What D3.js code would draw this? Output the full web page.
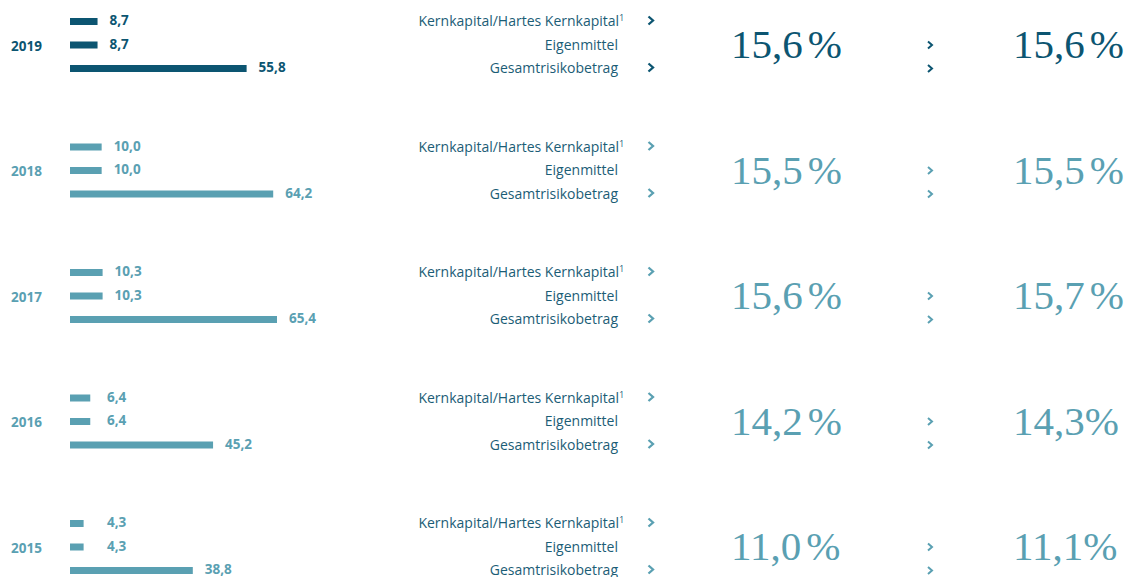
<!DOCTYPE html>
<html>
<head>
<meta charset="utf-8">
<script src="https://cdn.jsdelivr.net/npm/d3@7"></script>
<style>
	body { margin: 0; background: #ffffff; }
	svg { display: block; }
</style>
</head>
<body>
<div class="chart"></div>
<script>
	// data
	var years = ["2019", "2018", "2017", "2016", "2015"];
	var kernkapital = [8.7, 10.0, 10.3, 6.4, 4.3];
	var eigenmittel = [8.7, 10.0, 10.3, 6.4, 4.3];
	var gesamtrisiko = [55.8, 64.2, 65.4, 45.2, 38.8];
	var quoteLinks = ["15,6 %", "15,5 %", "15,6 %", "14,2 %", "11,0 %"];
	var quoteRechts = ["15,6 %", "15,5 %", "15,7 %", "14,3%", "11,1%"];
	var measures = ["Kernkapital/Hartes Kernkapital", "Eigenmittel", "Gesamtrisikobetrag"];

	var width = 1126, height = 577;
	var dark = "#0c5571", light = "#5aa0b2", textCol = "#1b5d76";

	var de = d3.formatLocale({ decimal: ",", thousands: ".", grouping: [3], currency: ["", " €"] });
	var fmt = de.format(".1f");

	// set SVG canvass
	var svg = d3.select(".chart")
		.append("svg")
			.attr("width", width)
			.attr("height", height);

	// scales
	var yRow = d3.scalePoint()
		.domain(years)
		.range([45, 547]);
	var yLine = d3.scalePoint()
		.domain(measures)
		.range([-23.5, 23.5]);
	var xBar = d3.scaleLinear()
		.domain([0, 65.4])
		.range([70, 277]);

	var rows = years.map(function(y, i) {
		return {
			year: y,
			values: [kernkapital[i], eigenmittel[i], gesamtrisiko[i]],
			left: quoteLinks[i],
			right: quoteRechts[i],
			color: i === 0 ? dark : light
		};
	});

	var row = svg.selectAll(".row")
		.data(rows)
		.enter()
		.append("g")
			.attr("class", "row")
			.attr("transform", function(d) { return "translate(0," + yRow(d.year) + ")"; });

	// year labels
	row.append("text")
		.attr("x", 11)
		.attr("y", 1)
		.attr("dy", "0.35em")
		.attr("font-family", "'Open Sans', sans-serif")
		.attr("font-weight", "bold")
		.attr("font-size", "13.5px")
		.attr("fill", function(d) { return d.color; })
		.text(function(d) { return d.year; });

	// bars
	row.selectAll(".bar")
		.data(function(d) { return d.values.map(function(v, j) { return { v: v, m: measures[j], color: d.color }; }); })
		.enter()
		.append("rect")
			.attr("class", "bar")
			.attr("x", xBar(0))
			.attr("y", function(d) { return yLine(d.m) - 3.5; })
			.attr("width", function(d) { return xBar(d.v) - xBar(0); })
			.attr("height", 7)
			.attr("fill", function(d) { return d.color; });

	// bar values
	row.selectAll(".val")
		.data(function(d) { return d.values.map(function(v, j) { return { v: v, m: measures[j], color: d.color }; }); })
		.enter()
		.append("text")
			.attr("class", "val")
			.attr("x", function(d) { return Math.max(xBar(d.v) + 12, 107); })
			.attr("y", function(d) { return yLine(d.m) - 1; })
			.attr("dy", "0.35em")
			.attr("font-family", "'Open Sans', sans-serif")
			.attr("font-weight", "bold")
			.attr("font-size", "13.5px")
			.attr("fill", function(d) { return d.color; })
			.text(function(d) { return fmt(d.v); });

	// measure labels
	var lbl = row.selectAll(".lbl")
		.data(measures)
		.enter()
		.append("text")
			.attr("class", "lbl")
			.attr("x", function(d, j) { return j === 0 ? 624 : 618; })
			.attr("y", function(d) { return yLine(d); })
			.attr("dy", "0.35em")
			.attr("text-anchor", "end")
			.attr("font-family", "'Open Sans', sans-serif")
			.attr("font-size", "14px")
			.attr("fill", textCol);
	lbl.append("tspan").text(function(d) { return d; });
	lbl.filter(function(d, j) { return j === 0; })
		.append("tspan")
			.attr("font-size", "8.5px")
			.attr("dy", "-5")
			.text("1");

	// chevrons
	row.selectAll(".chevA")
		.data(function(d) { return [measures[0], measures[2]].map(function(m) { return { m: m, color: d.color }; }); })
		.enter()
		.append("path")
			.attr("class", "chevA")
			.attr("d", "M-2.5,-4 L2,0 L-2.5,4")
			.attr("transform", function(d) { return "translate(651," + (yLine(d.m) - 1) + ")"; })
			.attr("fill", "none")
			.attr("stroke", function(d) { return d.color; })
			.attr("stroke-width", 2.3);

	row.selectAll(".chevB")
		.data(function(d) { return [measures[1], measures[2]].map(function(m) { return { m: m, color: d.color }; }); })
		.enter()
		.append("path")
			.attr("class", "chevB")
			.attr("d", "M-2,-3.5 L2,0 L-2,3.5")
			.attr("transform", function(d) { return "translate(930," + yLine(d.m) + ")"; })
			.attr("fill", "none")
			.attr("stroke", function(d) { return d.color; })
			.attr("stroke-width", 2);

	// big ratios: number, then % with a small gap where the source has one
	function ratio(x, key) {
		var t = row.append("text")
			.attr("x", x)
			.attr("y", 13)
			.attr("font-family", "'Liberation Serif', serif")
			.attr("font-size", "41px")
			.attr("fill", function(d) { return d.color; });
		t.append("tspan").text(function(d) { return d[key].replace(/\s*%/, ""); });
		t.append("tspan")
			.attr("dx", function(d) { return /\s%/.test(d[key]) ? 5 : 0; })
			.text("%");
	}
	ratio(731, "left");
	ratio(1013, "right");
</script>
</body>
</html>
